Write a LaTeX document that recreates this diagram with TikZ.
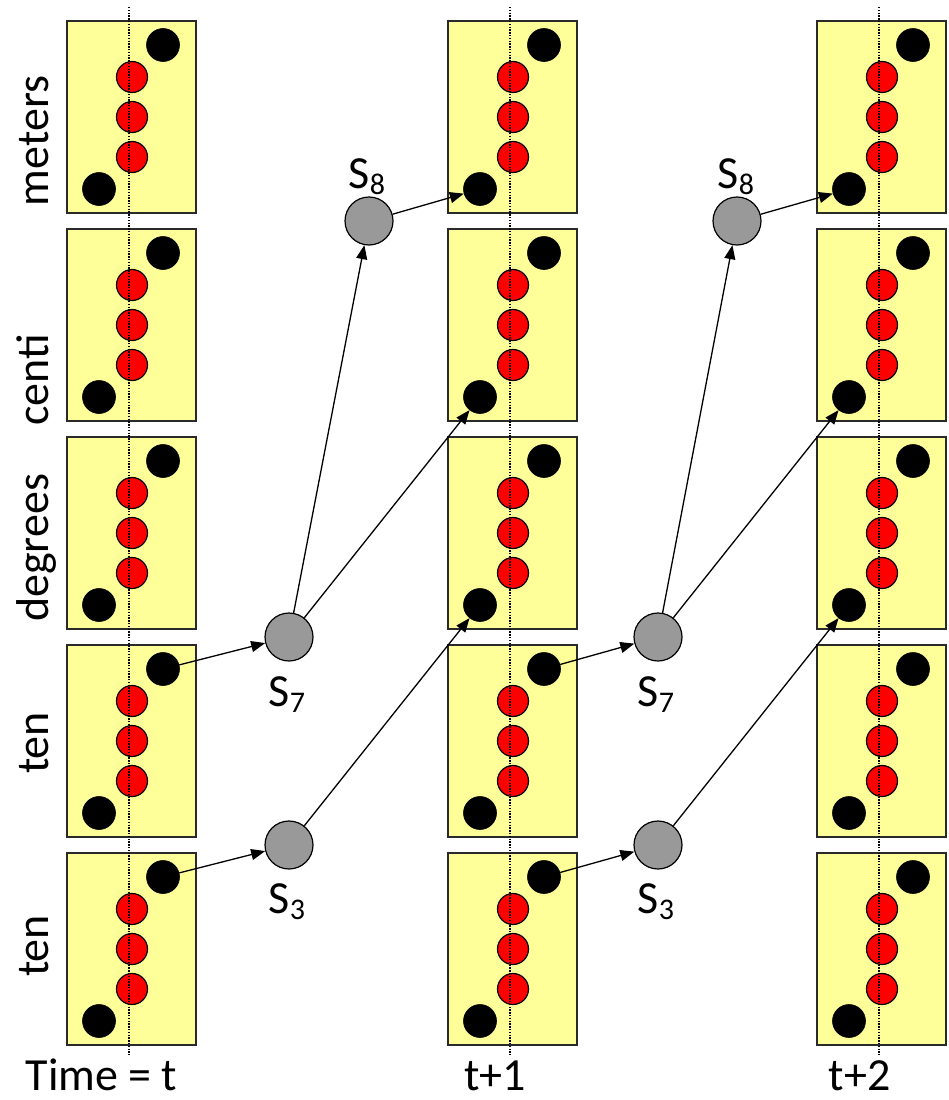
\documentclass[tikz,border=0pt]{standalone}
\usepackage{fontspec}
\setmainfont{Carlito}
\usetikzlibrary{arrows.meta}
\definecolor{boxyellow}{HTML}{FFFF99}
\definecolor{stategray}{HTML}{999999}
\definecolor{boxedge}{HTML}{2A2A2A}
\newcommand{\bigtxt}{\fontsize{46}{50}\selectfont}
\newcommand{\subtxt}[1]{\raisebox{-6pt}{\fontsize{30}{32}\selectfont #1}}
\begin{document}
\begin{tikzpicture}[x=1pt,y=-1pt,
  panel/.style={draw=boxedge,line width=1.5pt,fill=boxyellow,minimum width=129pt,minimum height=192pt,inner sep=0pt,outer sep=0pt,anchor=north west},
  blackdot/.style={circle,fill=black,draw=black,line width=0.6pt,minimum size=33pt,inner sep=0pt},
  reddot/.style={circle,fill=red,draw=black,line width=1.2pt,minimum size=31pt,inner sep=0pt},
  statenode/.style={circle,fill=stategray,draw=black,line width=1.2pt,minimum size=48pt,inner sep=0pt},
  timeline/.style={line width=1.4pt,dash pattern=on 1.4pt off 1.4pt},
  arr/.style={line width=1.3pt,-{Triangle[length=14pt,width=11pt]}},
  lbl/.style={font=\bigtxt,inner sep=0pt},
  timelbl/.style={font=\bigtxt,inner sep=0pt,text depth=0pt,anchor=base},
  sidelbl/.style={font=\bigtxt,inner sep=0pt,rotate=90,anchor=base}]
\useasboundingbox (0,0) rectangle (948,1100);
% panels
\foreach \c/\lx in {1/67,2/448,3/817} {
  \foreach \r in {1,...,5} {
    \pgfmathsetmacro\ty{21+208*(\r-1)}
    \node[panel] (box-\c-\r) at (\lx,\ty) {};
    \node[blackdot] (bt-\c-\r) at (\lx+96,\ty+24) {};
    \node[reddot] (ra-\c-\r) at (\lx+65,\ty+56) {};
    \node[reddot] (rb-\c-\r) at (\lx+65,\ty+96) {};
    \node[reddot] (rc-\c-\r) at (\lx+65,\ty+136) {};
    \node[blackdot] (bb-\c-\r) at (\lx+32,\ty+168) {};
  }
  \coordinate (dt-\c) at (\lx+62,7);
  \coordinate (db-\c) at (\lx+62,1055);
  \draw[timeline] (dt-\c) -- (db-\c);
}
% state nodes
\node[statenode] (s7-1) at (289,637) {};
\node[statenode] (s3-1) at (289,845) {};
\node[statenode] (s8-1) at (369,221) {};
\node[statenode] (s7-2) at (658,637) {};
\node[statenode] (s3-2) at (658,845) {};
\node[statenode] (s8-2) at (737,221) {};
% state labels
\node[lbl,anchor=base] (l7-1) at (287,706) {S\subtxt{7}};
\node[lbl,anchor=base] (l3-1) at (287,913) {S\subtxt{3}};
\node[lbl,anchor=base] (l8-1) at (367,188) {S\subtxt{8}};
\node[lbl,anchor=base] (l7-2) at (656,706) {S\subtxt{7}};
\node[lbl,anchor=base] (l3-2) at (656,913) {S\subtxt{3}};
\node[lbl,anchor=base] (l8-2) at (736,188) {S\subtxt{8}};
% arrows
\foreach \c/\n in {1/2,2/3} {
  \draw[arr] (bt-\c-4) -- (s7-\c);
  \draw[arr] (bt-\c-5) -- (s3-\c);
  \draw[arr] (s7-\c) -- (s8-\c);
  \draw[arr] (s7-\c) -- (bb-\n-2);
  \draw[arr] (s3-\c) -- (bb-\n-3);
  \draw[arr] (s8-\c) -- (bb-\n-1);
}
% side labels
\node[sidelbl] (side1) at (48,141) {meters};
\node[sidelbl] (side2) at (48,380) {centi};
\node[sidelbl] (side3) at (48,548) {degrees};
\node[sidelbl] (side4) at (48,743) {ten};
\node[sidelbl] (side5) at (48,946) {ten};
% time labels
\node[timelbl] (time1) at (101.5,1090) {Time = t};
\node[timelbl] (time2) at (495,1090) {t+1};
\node[timelbl] (time3) at (859.5,1090) {t+2};
\end{tikzpicture}
\end{document}
